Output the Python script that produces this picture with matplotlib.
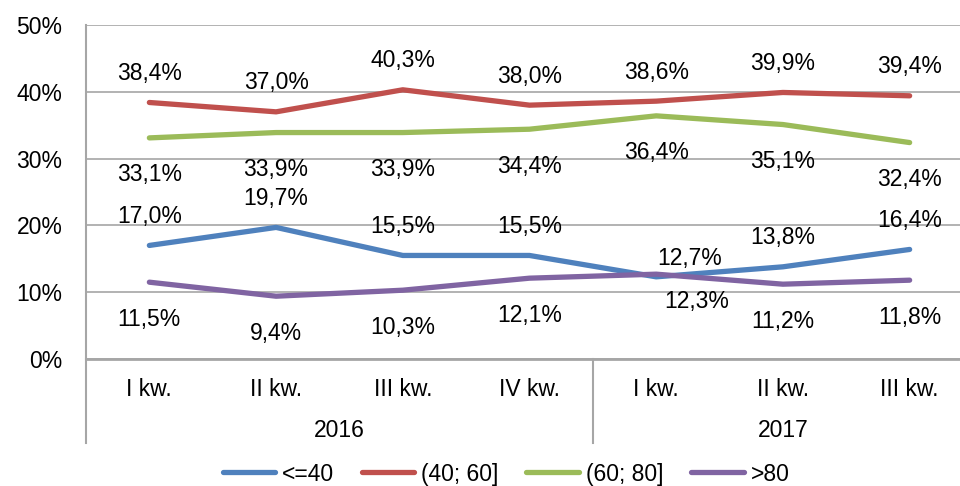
import matplotlib
matplotlib.use("Agg")
import matplotlib.pyplot as plt
import matplotlib.transforms as mtransforms

plt.rcParams['font.family'] = ['Liberation Sans', 'DejaVu Sans']

quarters = ["I kw.", "II kw.", "III kw.", "IV kw.", "I kw.", "II kw.", "III kw."]
years = ["2016", "2017"]
year_sizes = [4, 3]

series_names = ["<=40", "(40; 60]", "(60; 80]", ">80"]
le40 = [17.0, 19.7, 15.5, 15.5, 12.3, 13.8, 16.4]
r40_60 = [38.4, 37.0, 40.3, 38.0, 38.6, 39.9, 39.4]
r60_80 = [33.1, 33.9, 33.9, 34.4, 36.4, 35.1, 32.4]
gt80 = [11.5, 9.4, 10.3, 12.1, 12.7, 11.2, 11.8]

colors = ["#4F81BD", "#C0504D", "#9BBB59", "#8064A2"]
FS = 16.5
# label offset in pixels: above (+) or below (-) the line
label_dy = [29, 29, -37, -37]
# crossing point where the two labels are swapped and nudged right
label_fix = {(0, 4): (40, -25), (3, 4): (33, 16)}

fig = plt.figure(figsize=(9.6, 4.86), dpi=100)
ax = fig.add_axes([86 / 960, 1 - 359 / 486, 887 / 960, 334 / 486])

x = list(range(len(quarters)))
for i, (vals, name) in enumerate(zip([le40, r40_60, r60_80, gt80], series_names)):
    ax.plot(x, vals, color=colors[i], lw=3.8, solid_capstyle="round",
            solid_joinstyle="round", label=name, zorder=3)
    for j, v in enumerate(vals):
        dx, dy = label_fix.get((i, j), (0, label_dy[i]))
        ax.annotate(f"{v:.1f}%".replace(".", ","), (j, v),
                    xytext=(dx * 0.72, dy * 0.72), textcoords="offset points",
                    ha="center", va="center", fontsize=FS, color="#000000")

ax.set_xlim(-0.5, len(quarters) - 0.5)
ax.set_ylim(0, 50)
ax.set_yticks(range(0, 51, 10))
ax.set_yticklabels([f"{t}%" for t in range(0, 51, 10)])
ax.yaxis.grid(True, color="#A6A6A6", lw=1.2)
ax.set_axisbelow(True)
ax.tick_params(axis="y", length=0, pad=17, labelsize=FS)
ax.set_xticks(x)
ax.set_xticklabels(quarters)
ax.tick_params(axis="x", length=0, pad=14, labelsize=FS)

for s in ["top", "right"]:
    ax.spines[s].set_visible(False)
ax.spines["left"].set_color("#A6A6A6")
ax.spines["left"].set_linewidth(1.5)
ax.spines["bottom"].set_color("#A6A6A6")
ax.spines["bottom"].set_linewidth(2)

# second level of the category axis: year groups and separators
trans = mtransforms.blended_transform_factory(ax.transData, ax.transAxes)
start = -0.5
bottom = -(443 - 359) / 334
ax.plot([start, start], [0, bottom], transform=trans, color="#A6A6A6",
        lw=1.5, clip_on=False)
for yr, n in zip(years, year_sizes):
    end = start + n
    ax.text((start + end) / 2, -(430 - 359) / 334, yr, transform=trans,
            ha="center", va="center", fontsize=FS)
    ax.plot([end, end], [0, bottom], transform=trans, color="#A6A6A6",
            lw=1.5, clip_on=False)
    start = end

fig.legend(loc="center", bbox_to_anchor=(0.527, 1 - 474 / 486), ncol=4,
           frameon=False, fontsize=FS, handlelength=2.3, handletextpad=0.3,
           columnspacing=1.2)

fig.savefig("out.png", dpi=100)
